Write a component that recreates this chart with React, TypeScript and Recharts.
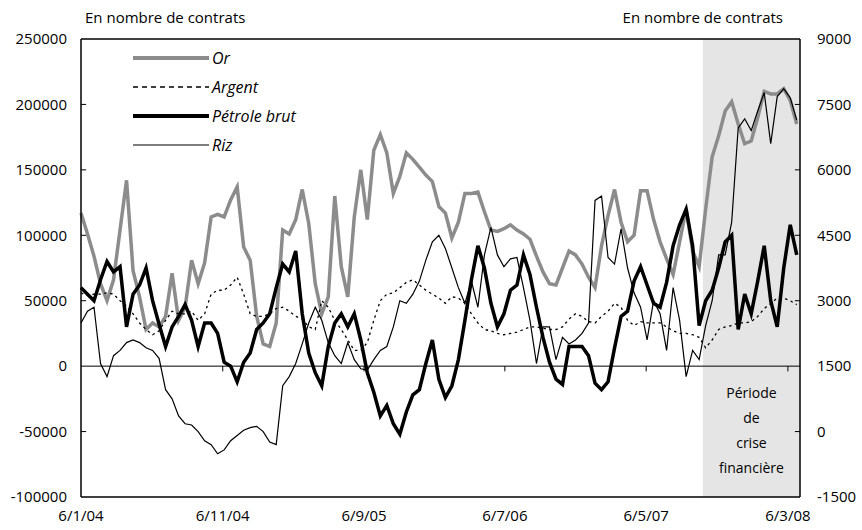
import React from "react";
import {
  LineChart,
  Line,
  XAxis,
  YAxis,
  Legend,
  ReferenceArea,
  ReferenceLine,
} from "recharts";

// one reading every two weeks, counted in days from 6/1/04
const STEP_DAYS = 14;

// net positions, thousands of contracts (left axis)
const orK = [
  117, 101, 84, 63, 50, 66, 104, 142, 73, 53, 28, 33, 30, 38, 71, 35, 45, 81, 63, 79,
  114, 116, 114, 127, 137, 91, 81, 38, 17, 15, 33, 104, 101, 112, 135, 109, 63, 40, 53, 130,
  76, 53, 114, 150, 112, 165, 177, 163, 132, 145, 163, 158, 152, 146, 141, 122, 117, 98, 110, 132,
  132, 133, 118, 104, 103, 105, 108, 104, 101, 97, 84, 72, 63, 62, 75, 88, 85, 78, 68, 60,
  92, 115, 135, 110, 95, 100, 134, 134, 112, 95, 82, 70, 95, 120, 88, 76, 120, 160, 176, 195,
  202, 185, 170, 172, 190, 210, 208, 208, 212, 203, 185,
];
const argentK = [
  56, 54, 55, 55, 56, 55, 50, 46, 40, 33, 28, 24, 27, 35, 42, 40, 40, 42, 35, 40,
  55, 58, 58, 62, 68, 55, 40, 38, 38, 40, 44, 45, 42, 38, 36, 30, 28, 50, 45, 35,
  28, 20, 12, 12, 18, 35, 50, 55, 56, 60, 64, 66, 62, 58, 55, 52, 48, 53, 52, 48,
  40, 33, 28, 27, 25, 24, 25, 26, 28, 30, 30, 29, 28, 28, 30, 36, 40, 38, 34, 33,
  38, 42, 48, 45, 35, 31, 34, 33, 33, 33, 30, 27, 25, 25, 24, 22, 14, 20, 28, 30,
  31, 33, 33, 34, 38, 44, 48, 52, 52, 50, 47,
];
const petroleK = [
  60, 55, 50, 66, 80, 72, 76, 30, 55, 62, 75, 50, 32, 15, 30, 38, 47, 35, 15, 33,
  33, 25, 3, 0, -12, 3, 10, 28, 33, 40, 60, 78, 72, 88, 40, 10, -5, -15, 15, 33,
  40, 30, 40, 20, -5, -20, -38, -30, -44, -52, -35, -22, -18, 2, 20, -10, -24, -15, 5, 35,
  66, 92, 75, 48, 30, 40, 58, 62, 85, 70, 45, 22, 3, -10, -14, 15, 15, 15, 8, -13,
  -18, -12, 14, 38, 42, 65, 76, 62, 48, 45, 64, 92, 108, 120, 92, 31, 50, 58, 75, 95,
  100, 28, 55, 40, 65, 92, 50, 30, 75, 108, 85,
];
// rice, contracts (right axis)
const riz = [
  2490, 2760, 2850, 1560, 1260, 1740, 1860, 2040, 2100, 2040, 1920, 1860, 1680, 960, 750, 360, 180, 150, 0, -210,
  -300, -510, -420, -210, -90, 30, 90, 120, 0, -240, -300, 1050, 1260, 1560, 2010, 2490, 2850, 2550, 2040, 1740,
  1560, 2040, 1650, 1440, 1410, 1650, 1860, 1950, 2400, 3000, 2940, 3150, 3450, 3930, 4350, 4500, 4200, 3750, 3300, 2940,
  3450, 2850, 4050, 4680, 4050, 3780, 3960, 3990, 3300, 2550, 1560, 2400, 2400, 1650, 2160, 2010, 2100, 2250, 2490, 5300,
  5400, 3990, 3840, 4650, 3750, 3180, 2850, 2100, 3000, 2700, 1860, 3300, 2550, 1260, 1860, 1650, 2430, 3000, 4050, 4050,
  4800, 6960, 7170, 6900, 7350, 7770, 6600, 7680, 7860, 7650, 7140,
];

const tickDays = [0, 305, 609, 912, 1216, 1521];
const tickLabels = ["6/1/04", "6/11/04", "6/9/05", "6/7/06", "6/5/07", "6/3/08"];
const leftTicks = [-100000, -50000, 0, 50000, 100000, 150000, 200000, 250000];
const rightTicks = [-1500, 0, 1500, 3000, 4500, 6000, 7500, 9000];
const innerTicks = [-50000, 50000, 100000, 150000, 200000];
const crisisStart = 1338;
const lastDay = 1547;

const data = orK.map((v, i) => ({
  day: i * STEP_DAYS,
  or: v * 1000,
  argent: argentK[i] * 1000,
  petrole: petroleK[i] * 1000,
  riz: riz[i],
}));

const FONT = "'Open Sans', Lato, sans-serif";

const legendOrder = ["or", "argent", "petrole", "riz"];
const legendStyle: Record<string, { stroke: string; width: number; dash?: string }> = {
  or: { stroke: "#8c8c8c", width: 4 },
  argent: { stroke: "#000", width: 1.5, dash: "5 4" },
  petrole: { stroke: "#000", width: 4 },
  riz: { stroke: "#000", width: 1.2 },
};

const renderLegend = (props: any) => {
  const items = [...(props.payload || [])].sort(
    (a: any, b: any) => legendOrder.indexOf(a.dataKey) - legendOrder.indexOf(b.dataKey)
  );
  return (
    <div style={{ fontFamily: FONT, fontStyle: "italic", fontSize: 16, color: "#000" }}>
      {items.map((e: any) => {
        const s = legendStyle[e.dataKey];
        return (
          <div key={e.dataKey} style={{ display: "flex", alignItems: "center", height: 29 }}>
            <svg width={76} height={10}>
              <line x1={0} y1={5} x2={76} y2={5} stroke={s.stroke} strokeWidth={s.width} strokeDasharray={s.dash} />
            </svg>
            <span style={{ marginLeft: 3 }}>{e.value}</span>
          </div>
        );
      })}
    </div>
  );
};

const crisisLabel = (props: any) => {
  const { x, y, width } = props.viewBox;
  const cx = x + width / 2;
  const lines = ["Période", "de", "crise", "financière"];
  return (
    <text x={cx} y={y} textAnchor="middle" fontFamily={FONT} fontSize={14} fill="#000">
      {lines.map((t, i) => (
        <tspan key={t} x={cx} y={y + 359 + i * 25}>
          {t}
        </tspan>
      ))}
    </text>
  );
};

export default function App() {
  return (
    <div style={{ position: "absolute", left: 0, top: 0, fontFamily: FONT, background: "#fff" }}>
      <LineChart width={862} height={530} data={data} margin={{ top: 39, right: 0, bottom: 0, left: 0 }}>
        <ReferenceArea
          yAxisId="left"
          x1={crisisStart}
          x2={lastDay}
          y1={-100000}
          y2={250000}
          fill="#e5e5e5"
          fillOpacity={1}
          stroke="none"
          label={crisisLabel}
        />
        <XAxis
          dataKey="day"
          type="number"
          domain={[0, lastDay]}
          ticks={tickDays}
          interval={0}
          tickFormatter={(d: number) => tickLabels[tickDays.indexOf(d)]}
          tick={{ fill: "#000", fontSize: 15, fontFamily: FONT }}
          axisLine={{ stroke: "#000", strokeWidth: 1.5 }}
          tickLine={false}
          tickMargin={7}
          height={33}
        />
        <YAxis
          yAxisId="left"
          domain={[-100000, 250000]}
          ticks={leftTicks}
          interval={0}
          width={81}
          tick={{ fill: "#000", fontSize: 15, fontFamily: FONT }}
          axisLine={{ stroke: "#000", strokeWidth: 1.5 }}
          tickLine={false}
          tickMargin={8}
          label={{
            content: () => (
              <text x={85} y={23} fontFamily={FONT} fontSize={15} fill="#000">
                En nombre de contrats
              </text>
            ),
          }}
        />
        <YAxis
          yAxisId="right"
          orientation="right"
          domain={[-1500, 9000]}
          ticks={rightTicks}
          interval={0}
          width={62}
          tick={{ fill: "#000", fontSize: 15, fontFamily: FONT, textAnchor: "start" }}
          axisLine={{ stroke: "#000", strokeWidth: 1.5 }}
          tickLine={false}
          tickMargin={11}
          label={{
            content: () => (
              <text x={783} y={23} textAnchor="end" fontFamily={FONT} fontSize={15} fill="#000">
                En nombre de contrats
              </text>
            ),
          }}
        />
        <ReferenceLine yAxisId="left" y={250000} stroke="#000" strokeWidth={1.5} />
        <ReferenceLine yAxisId="left" y={0} stroke="#000" strokeWidth={1} />
        {tickDays.slice(1).map((d) => (
          <ReferenceLine
            key={"xt" + d}
            yAxisId="left"
            segment={[
              { x: d, y: 0 },
              { x: d, y: -4000 },
            ]}
            stroke="#000"
          />
        ))}
        {innerTicks.map((v) => (
          <ReferenceLine
            key={"lt" + v}
            yAxisId="left"
            segment={[
              { x: 0, y: v },
              { x: 11, y: v },
            ]}
            stroke="#000"
          />
        ))}
        {innerTicks.map((v) => (
          <ReferenceLine
            key={"rt" + v}
            yAxisId="left"
            segment={[
              { x: lastDay - 11, y: v },
              { x: lastDay, y: v },
            ]}
            stroke="#000"
          />
        ))}
        <Legend
          layout="vertical"
          align="center"
          verticalAlign="middle"
          wrapperStyle={{ left: 133, top: 43, width: "auto" }}
          content={renderLegend}
        />
        <Line yAxisId="left" type="linear" dataKey="or" name="Or" stroke="#8c8c8c" strokeWidth={3.5} dot={false} isAnimationActive={false} />
        <Line yAxisId="left" type="linear" dataKey="argent" name="Argent" stroke="#000" strokeWidth={1.3} strokeDasharray="2.5 3.5" dot={false} isAnimationActive={false} />
        <Line yAxisId="left" type="linear" dataKey="petrole" name="Pétrole brut" stroke="#000" strokeWidth={3.5} dot={false} isAnimationActive={false} />
        <Line yAxisId="right" type="linear" dataKey="riz" name="Riz" stroke="#000" strokeWidth={1.2} dot={false} isAnimationActive={false} />
      </LineChart>
    </div>
  );
}
